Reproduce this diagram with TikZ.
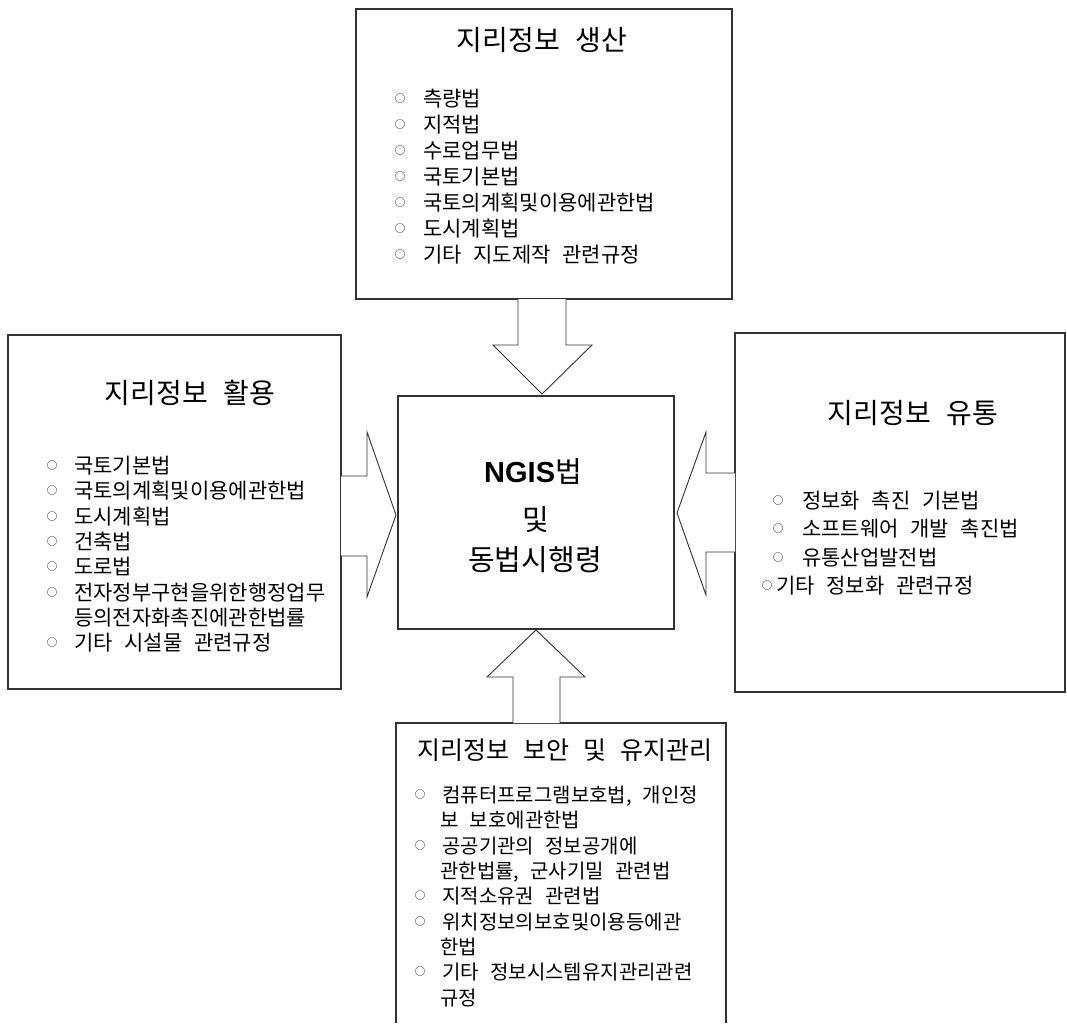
\documentclass[tikz,border=0pt]{standalone}
\usepackage{fontspec}
\setmainfont{Noto Sans CJK KR}[WordSpace=2.5]
\newfontfamily\ngisfont{Liberation Sans}
\newcommand\bl[1]{\makebox[#1][l]{\raisebox{3.6pt}{\fontsize{10.5}{10.5}\selectfont ○}}}
\tikzset{
  boxline/.style={draw=black!80, line width=1.1pt},
  frame/.style={inner sep=0pt, outer sep=0pt},
  barrow/.style={draw=black!80, line width=0.9pt, fill=white, line join=miter},
  itm/.style={anchor=base west, inner sep=0pt, font=\fontsize{21}{21}\selectfont},
  itmb/.style={anchor=base west, inner sep=0pt, font=\fontsize{20}{20}\selectfont},
  ttl/.style={anchor=base, inner sep=0pt, font=\fontsize{28}{28}\selectfont},
  ctr/.style={anchor=base, inner sep=0pt, font=\fontsize{29}{29}\selectfont},
}
\begin{document}
\begin{tikzpicture}[x=1pt,y=-1pt]
\useasboundingbox (0,0) rectangle (1067,1023);
\fill[white] (0,0) rectangle (1067,1023);

% boxes
\node[frame, boxline, minimum width=376pt, minimum height=290pt] (top) at (544,154) {};
\node[frame, boxline, minimum width=333pt, minimum height=354pt] (left) at (174.5,512) {};
\node[frame, boxline, minimum width=330pt, minimum height=359pt] (right) at (900,512.5) {};
\node[frame, boxline, minimum width=276pt, minimum height=233pt] (mid) at (536,512.5) {};
\node[frame, minimum width=330pt, minimum height=300pt, anchor=north east] (bot) at (726,723) {};
\draw[boxline] (bot.south west) -- (bot.north west) -- (bot.north east) -- (bot.south east);

% block arrows
\draw[barrow] (518,299) -- (518,345) -- (493,345) -- (542,394) -- (592,345) -- (566,345) -- (566,299);
\draw[barrow] (341,476) -- (367,476) -- (367,432) -- (396,515) -- (367,597) -- (367,556) -- (341,556);
\draw[barrow] (735,473) -- (706,473) -- (706,432) -- (677,513) -- (706,595) -- (706,552) -- (735,552);
\draw[barrow] (513,723) -- (513,677) -- (487,677) -- (536,630) -- (585,677) -- (560,677) -- (560,723);

% top box
\node[ttl] (tt) at (542,50.4) {지리정보 생산};
\node[itm] (t1) at (394.75,106) {\bl{28.25pt}측량법};
\node[itm] (t2) at (394.75,132) {\bl{28.25pt}지적법};
\node[itm] (t3) at (394.75,158) {\bl{28.25pt}수로업무법};
\node[itm] (t4) at (394.75,184) {\bl{28.25pt}국토기본법};
\node[itm] (t5) at (394.75,210) {\bl{28.25pt}국토의계획및이용에관한법};
\node[itm] (t6) at (394.75,236) {\bl{28.25pt}도시계획법};
\node[itm] (t7) at (394.75,262) {\bl{28.25pt}기타 지도제작 관련규정};

% left box
\node[ttl] (lt) at (190,403.4) {지리정보 활용};
\node[itm] (l1) at (46.75,473) {\bl{27.25pt}국토기본법};
\node[itm] (l2) at (46.75,498) {\bl{27.25pt}국토의계획및이용에관한법};
\node[itm] (l3) at (46.75,524) {\bl{27.25pt}도시계획법};
\node[itm] (l4) at (46.75,549) {\bl{27.25pt}건축법};
\node[itm] (l5) at (46.75,574) {\bl{27.25pt}도로법};
\node[itm] (l6) at (46.75,600) {\bl{27.25pt}전자정부구현을위한행정업무};
\node[itm] (l7) at (74,625) {등의전자화촉진에관한법률};
\node[itm] (l8) at (46.75,650) {\bl{27.25pt}기타 시설물 관련규정};

% right box
\node[ttl] (rt) at (913,423.4) {지리정보 유통};
\node[itm] (r1) at (772.75,508) {\bl{29.25pt}정보화 촉진 기본법};
\node[itm] (r2) at (772.75,536) {\bl{29.25pt}소프트웨어 개발 촉진법};
\node[itm] (r3) at (772.75,565) {\bl{29.25pt}유통산업발전법};
\node[itm] (r4) at (761.75,593) {\bl{14.25pt}기타 정보화 관련규정};

% centre box
\node[ctr] (c1) at (533,482.5) {{\ngisfont\bfseries NGIS}법};
\node[ctr] (c2) at (536,530.7) {및};
\node[ctr] (c3) at (535,570.7) {동법시행령};

% bottom box
\node[anchor=base east, inner sep=0pt, font=\fontsize{25}{25}\selectfont] (bt) at (713,759.3) {지리정보 보안 및 유지관리};
\node[itmb] (b1) at (414.75,802) {\bl{27.25pt}컴퓨터프로그램보호법, 개인정};
\node[itmb] (b2) at (440,827) {보 보호에관한법};
\node[itmb] (b3) at (414.75,853) {\bl{27.25pt}공공기관의 정보공개에};
\node[itmb] (b4) at (440,878) {관한법률, 군사기밀 관련법};
\node[itmb] (b5) at (414.75,903) {\bl{27.25pt}지적소유권 관련법};
\node[itmb] (b6) at (414.75,929) {\bl{27.25pt}위치정보의보호및이용등에관};
\node[itmb] (b7) at (440,954) {한법};
\node[itmb] (b8) at (414.75,979) {\bl{27.25pt}기타 정보시스템유지관리관련};
\node[itmb] (b9) at (440,1005) {규정};
\end{tikzpicture}
\end{document}
